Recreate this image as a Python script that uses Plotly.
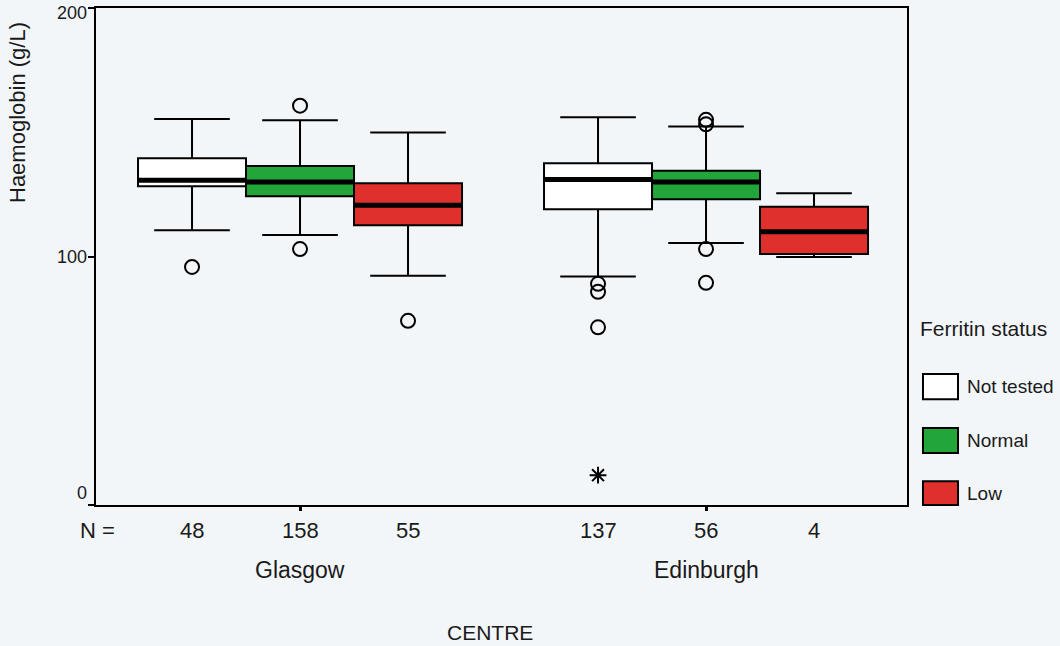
import plotly.graph_objects as go

# ---- data ----
centres = ["Glasgow", "Edinburgh"]
statuses = ["Not tested", "Normal", "Low"]
colors = ["#ffffff", "#22a63a", "#e0302e"]

n_counts = {
    "Not tested": [48, 137],
    "Normal": [158, 56],
    "Low": [55, 4],
}
q1 = {"Not tested": [128.3, 119.0], "Normal": [124.2, 123.0], "Low": [112.6, 101.0]}
median = {"Not tested": [130.7, 131.0], "Normal": [130.0, 130.0], "Low": [120.6, 110.0]}
q3 = {"Not tested": [139.5, 137.5], "Normal": [136.4, 134.5], "Low": [129.5, 120.0]}
lower = {"Not tested": [110.6, 92.0], "Normal": [108.7, 105.4], "Low": [92.3, 99.8]}
upper = {"Not tested": [155.3, 156.0], "Normal": [154.8, 152.3], "Low": [149.9, 125.5]}
outliers = {
    "Not tested": [[95.8], [89.0, 85.8, 71.5]],
    "Normal": [[160.7, 103.0], [155.0, 153.2, 103.0, 89.4]],
    "Low": [[74.1], []],
}
extremes = {
    "Not tested": [[], [12.0]],
    "Normal": [[], []],
    "Low": [[], []],
}

yticks = [0, 100, 200]

# ---- layout helpers ----
W = 0.266  # box width in x units (one centre = 1 unit)
FONT = "Liberation Sans, Arial, sans-serif"
TXT = "#1a1a1a"


def pos(ci, si):
    return ci + (si - 1) * W


fig = go.Figure()

for si, st in enumerate(statuses):
    xs = [pos(ci, si) for ci in range(len(centres))]
    fig.add_trace(go.Box(
        x=xs, q1=q1[st], median=median[st], q3=q3[st],
        lowerfence=lower[st], upperfence=upper[st],
        width=W, whiskerwidth=0.7, fillcolor=colors[si],
        line=dict(color="black", width=2), boxpoints=False,
        name=st, showlegend=False, hoverinfo="skip",
    ))
    # thick median bars
    mx, my = [], []
    for ci in range(len(centres)):
        p = pos(ci, si)
        mx += [p - W / 2, p + W / 2, None]
        my += [median[st][ci], median[st][ci], None]
    fig.add_trace(go.Scatter(x=mx, y=my, mode="lines",
                             line=dict(color="black", width=5),
                             showlegend=False, hoverinfo="skip"))
    # outliers
    ox, oy = [], []
    ex, ey = [], []
    for ci in range(len(centres)):
        for v in outliers[st][ci]:
            ox.append(pos(ci, si)); oy.append(v)
        for v in extremes[st][ci]:
            ex.append(pos(ci, si)); ey.append(v)
    if ox:
        fig.add_trace(go.Scatter(x=ox, y=oy, mode="markers",
                                 marker=dict(symbol="circle-open", size=14,
                                             color="black", line=dict(width=2)),
                                 showlegend=False, hoverinfo="skip"))
    if ex:
        fig.add_trace(go.Scatter(x=ex, y=ey, mode="markers",
                                 marker=dict(symbol="asterisk-open", size=14,
                                             color="black", line=dict(width=2)),
                                 showlegend=False, hoverinfo="skip"))

annotations = []
# y tick labels (SPSS style: end labels nudged inside the axis span)
ymin, ymax = min(yticks), max(yticks)
for t in yticks:
    if t == ymin:
        anchor, shift = "bottom", 0
    elif t == ymax:
        anchor, shift = "middle", -5
    else:
        anchor, shift = "middle", 0
    annotations.append(dict(text=str(t), xref="paper", yref="y", x=0, y=t,
                            xanchor="right", yanchor=anchor, xshift=-7, yshift=shift,
                            showarrow=False,
                            font=dict(size=18, color=TXT, family=FONT)))
# N = row
annotations.append(dict(text="N =", xref="paper", yref="paper", x=-0.022, y=0,
                        xanchor="left", yanchor="top", yshift=-11, showarrow=False,
                        font=dict(size=22, color=TXT, family=FONT)))
for si, st in enumerate(statuses):
    for ci in range(len(centres)):
        annotations.append(dict(text=str(n_counts[st][ci]), xref="x", yref="paper",
                                x=pos(ci, si), y=0, xanchor="center", yanchor="top",
                                yshift=-11, showarrow=False,
                                font=dict(size=22, color=TXT, family=FONT)))
for ci, c in enumerate(centres):
    annotations.append(dict(text=c, xref="x", yref="paper", x=ci, y=0,
                            xanchor="center", yanchor="top", yshift=-50,
                            showarrow=False, font=dict(size=23, color=TXT, family=FONT)))
annotations.append(dict(text="CENTRE", xref="paper", yref="paper", x=0.486, y=0,
                        xanchor="center", yanchor="middle", yshift=-127, showarrow=False,
                        font=dict(size=21, color=TXT, family=FONT)))
annotations.append(dict(text="Haemoglobin (g/L)", xref="paper", yref="paper",
                        x=-0.096, y=0.789, xanchor="center", yanchor="middle",
                        textangle=-90, showarrow=False,
                        font=dict(size=22, color=TXT, family=FONT)))
# legend (manual)
annotations.append(dict(text="Ferritin status", xref="paper", yref="paper",
                        x=1.0136, y=0.356, xanchor="left", yanchor="middle",
                        showarrow=False, font=dict(size=21, color=TXT, family=FONT)))
shapes = []
leg_y = [(0.213, 0.2636), (0.1046, 0.155), (0.0, 0.048)]
for si, st in enumerate(statuses):
    y0, y1 = leg_y[si]
    shapes.append(dict(type="rect", xref="paper", yref="paper", x0=1.0197, x1=1.0629,
                       y0=y0, y1=y1, fillcolor=colors[si],
                       line=dict(color="black", width=2)))
    annotations.append(dict(text=st, xref="paper", yref="paper", x=1.0715,
                            y=(y0 + y1) / 2, xanchor="left", yanchor="middle",
                            showarrow=False, font=dict(size=19, color=TXT, family=FONT)))

BG = "#f2f6f9"
fig.update_layout(
    width=1060, height=646,
    margin=dict(l=96, r=153, t=8, b=141),
    paper_bgcolor=BG, plot_bgcolor=BG,
    showlegend=False,
    annotations=annotations, shapes=shapes,
    xaxis=dict(range=[-0.5025, 1.495], showgrid=False, zeroline=False,
               automargin=False,
               tickvals=list(range(len(centres))), ticktext=["", ""],
               ticks="outside", ticklen=4, tickwidth=3, tickcolor="black",
               showline=True, linecolor="black", linewidth=2, mirror=True),
    yaxis=dict(range=[0, 200], tickvals=yticks, showticklabels=False,
               showgrid=False, zeroline=False, automargin=False,
               ticks="outside", ticklen=6, tickwidth=2, tickcolor="black",
               showline=True, linecolor="black", linewidth=2, mirror=True),
)

fig.write_html("out.html")
